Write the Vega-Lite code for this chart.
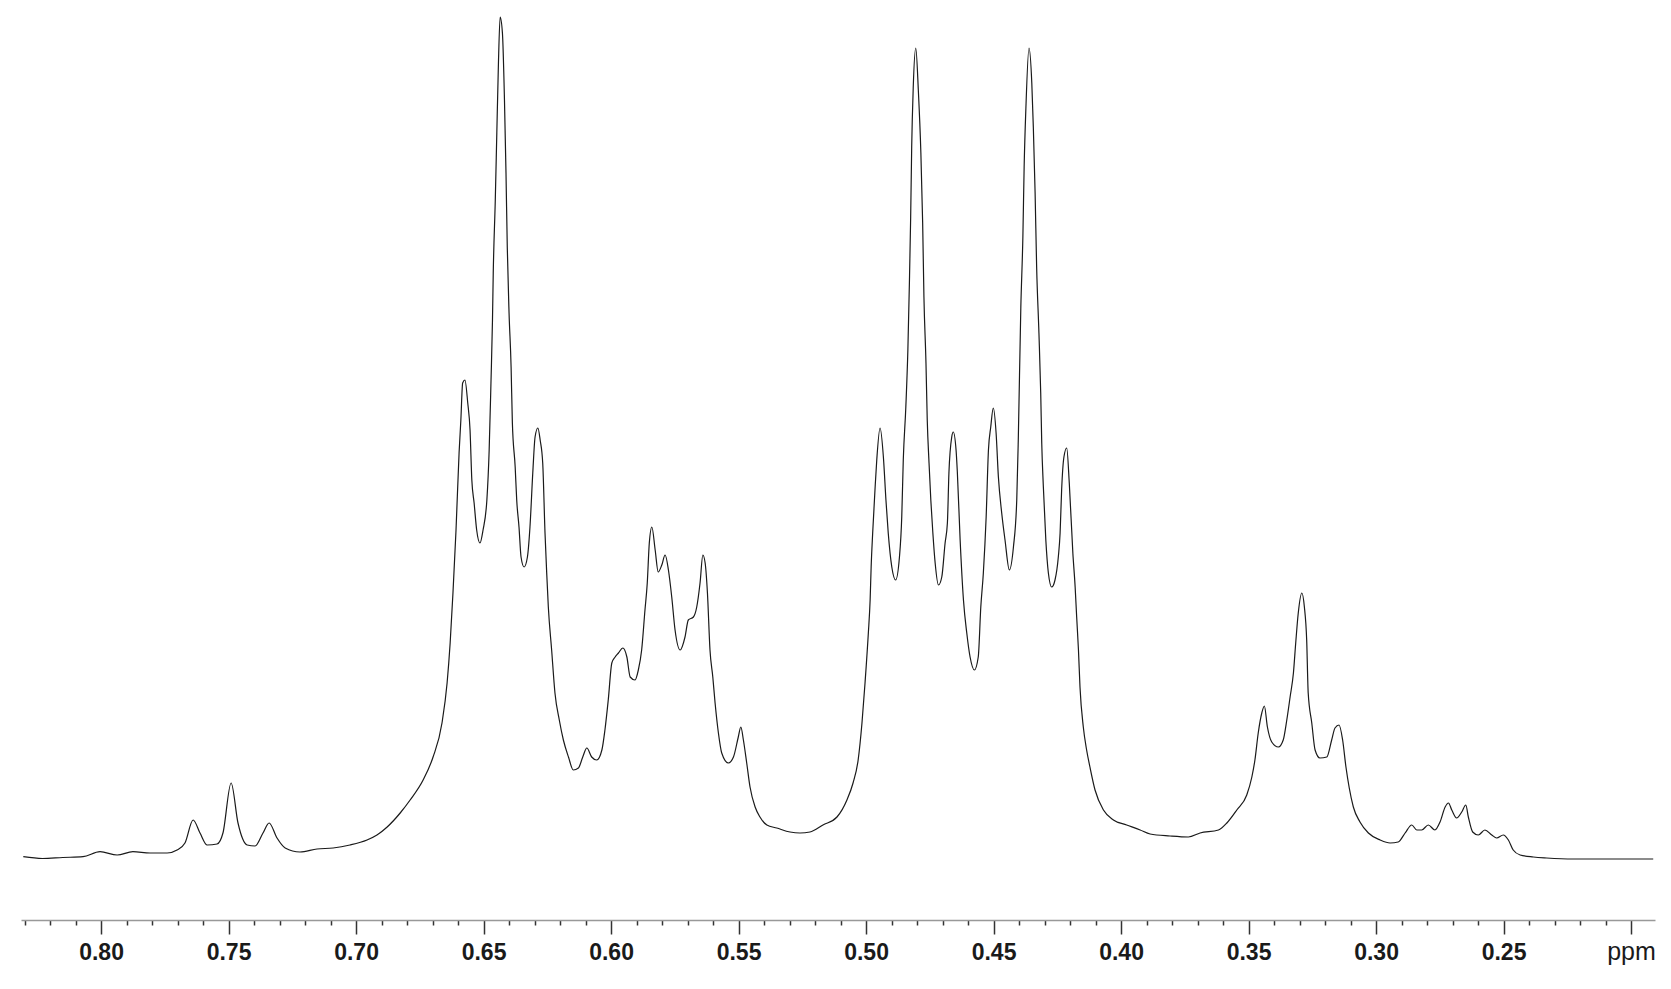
{
  "$schema": "https://vega.github.io/schema/vega-lite/v6.json",
  "width": 1634,
  "height": 920,
  "autosize": {"type": "none"},
  "padding": {"left": 21, "right": 16, "top": 0, "bottom": 69},
  "background": "white",
  "config": {"view": {"stroke": null}},
  "data": {"values": [
    {"ppm":0.8305,"intensity":3.3},{"ppm":0.8230,"intensity":1.5},{"ppm":0.8150,"intensity":2.5},{"ppm":0.8071,"intensity":3.3},
    {"ppm":0.8004,"intensity":8.3},{"ppm":0.7937,"intensity":5},{"ppm":0.7875,"intensity":8.3},{"ppm":0.7808,"intensity":7},
    {"ppm":0.7741,"intensity":7},{"ppm":0.7702,"intensity":10},{"ppm":0.7671,"intensity":17},{"ppm":0.7639,"intensity":40},
    {"ppm":0.7612,"intensity":27},{"ppm":0.7584,"intensity":15},{"ppm":0.7545,"intensity":16},{"ppm":0.7522,"intensity":27},
    {"ppm":0.7490,"intensity":77},{"ppm":0.7463,"intensity":37},{"ppm":0.7427,"intensity":15},{"ppm":0.7396,"intensity":14},
    {"ppm":0.7365,"intensity":27},{"ppm":0.7341,"intensity":37},{"ppm":0.7310,"intensity":22},{"ppm":0.7278,"intensity":12},
    {"ppm":0.7220,"intensity":8},{"ppm":0.7153,"intensity":11},{"ppm":0.7090,"intensity":12},{"ppm":0.7024,"intensity":15},
    {"ppm":0.6957,"intensity":20},{"ppm":0.6918,"intensity":25},{"ppm":0.6878,"intensity":33},{"ppm":0.6827,"intensity":47},
    {"ppm":0.6788,"intensity":60},{"ppm":0.6737,"intensity":80},{"ppm":0.6698,"intensity":103},{"ppm":0.6663,"intensity":137},
    {"ppm":0.6643,"intensity":177},{"ppm":0.6631,"intensity":217},{"ppm":0.6620,"intensity":267},{"ppm":0.6608,"intensity":330},
    {"ppm":0.6596,"intensity":407},{"ppm":0.6589,"intensity":440},{"ppm":0.6582,"intensity":477},{"ppm":0.6573,"intensity":480},
    {"ppm":0.6562,"intensity":457},{"ppm":0.6553,"intensity":430},{"ppm":0.6546,"intensity":380},{"ppm":0.6537,"intensity":357},
    {"ppm":0.6527,"intensity":330},{"ppm":0.6514,"intensity":317},{"ppm":0.6502,"intensity":330},{"ppm":0.6487,"intensity":360},
    {"ppm":0.6478,"intensity":410},{"ppm":0.6471,"intensity":477},{"ppm":0.6465,"intensity":540},{"ppm":0.6462,"intensity":587},
    {"ppm":0.6454,"intensity":660},{"ppm":0.6448,"intensity":727},{"ppm":0.6442,"intensity":793},{"ppm":0.6435,"intensity":843},
    {"ppm":0.6426,"intensity":827},{"ppm":0.6418,"intensity":760},{"ppm":0.6412,"intensity":687},{"ppm":0.6407,"intensity":613},
    {"ppm":0.6400,"intensity":547},{"ppm":0.6392,"intensity":493},{"ppm":0.6387,"intensity":437},{"ppm":0.6376,"intensity":393},
    {"ppm":0.6370,"intensity":360},{"ppm":0.6361,"intensity":333},{"ppm":0.6353,"intensity":303},{"ppm":0.6341,"intensity":293},
    {"ppm":0.6328,"intensity":303},{"ppm":0.6318,"intensity":333},{"ppm":0.6307,"intensity":387},{"ppm":0.6298,"intensity":423},
    {"ppm":0.6287,"intensity":432},{"ppm":0.6278,"intensity":420},{"ppm":0.6268,"intensity":397},{"ppm":0.6259,"intensity":327},
    {"ppm":0.6252,"intensity":285},{"ppm":0.6246,"intensity":253},{"ppm":0.6233,"intensity":210},{"ppm":0.6220,"intensity":167},
    {"ppm":0.6203,"intensity":140},{"ppm":0.6187,"intensity":120},{"ppm":0.6167,"intensity":103},{"ppm":0.6148,"intensity":90},
    {"ppm":0.6128,"intensity":92},{"ppm":0.6111,"intensity":103},{"ppm":0.6095,"intensity":112},{"ppm":0.6076,"intensity":103},
    {"ppm":0.6056,"intensity":100},{"ppm":0.6036,"intensity":110},{"ppm":0.6024,"intensity":130},{"ppm":0.6011,"intensity":160},
    {"ppm":0.5997,"intensity":197},{"ppm":0.5984,"intensity":203},{"ppm":0.5971,"intensity":207},{"ppm":0.5954,"intensity":212},
    {"ppm":0.5938,"intensity":203},{"ppm":0.5925,"intensity":183},{"ppm":0.5906,"intensity":180},{"ppm":0.5893,"intensity":190},
    {"ppm":0.5880,"intensity":210},{"ppm":0.5867,"intensity":250},{"ppm":0.5858,"intensity":277},{"ppm":0.5850,"intensity":317},
    {"ppm":0.5840,"intensity":333},{"ppm":0.5827,"intensity":310},{"ppm":0.5815,"intensity":288},{"ppm":0.5801,"intensity":295},
    {"ppm":0.5788,"intensity":305},{"ppm":0.5775,"intensity":290},{"ppm":0.5762,"intensity":263},{"ppm":0.5749,"intensity":230},
    {"ppm":0.5729,"intensity":210},{"ppm":0.5710,"intensity":223},{"ppm":0.5697,"intensity":240},{"ppm":0.5677,"intensity":243},
    {"ppm":0.5664,"intensity":253},{"ppm":0.5651,"intensity":277},{"ppm":0.5640,"intensity":305},{"ppm":0.5631,"intensity":297},
    {"ppm":0.5622,"intensity":267},{"ppm":0.5612,"intensity":210},{"ppm":0.5601,"intensity":183},{"ppm":0.5592,"intensity":157},
    {"ppm":0.5579,"intensity":127},{"ppm":0.5566,"intensity":107},{"ppm":0.5540,"intensity":97},{"ppm":0.5520,"intensity":103},
    {"ppm":0.5501,"intensity":123},{"ppm":0.5491,"intensity":133},{"ppm":0.5481,"intensity":120},{"ppm":0.5468,"intensity":97},
    {"ppm":0.5455,"intensity":73},{"ppm":0.5435,"intensity":53},{"ppm":0.5416,"intensity":43},{"ppm":0.5389,"intensity":35},
    {"ppm":0.5350,"intensity":32},{"ppm":0.5298,"intensity":28},{"ppm":0.5259,"intensity":27},{"ppm":0.5220,"intensity":28},
    {"ppm":0.5169,"intensity":35},{"ppm":0.5114,"intensity":43},{"ppm":0.5075,"intensity":60},{"ppm":0.5051,"intensity":77},
    {"ppm":0.5031,"intensity":100},{"ppm":0.5016,"intensity":137},{"ppm":0.5004,"intensity":177},{"ppm":0.4991,"intensity":227},
    {"ppm":0.4984,"intensity":260},{"ppm":0.4980,"intensity":293},{"ppm":0.4974,"intensity":327},{"ppm":0.4965,"intensity":370},
    {"ppm":0.4958,"intensity":400},{"ppm":0.4945,"intensity":432},{"ppm":0.4932,"intensity":403},{"ppm":0.4922,"intensity":360},
    {"ppm":0.4913,"intensity":327},{"ppm":0.4899,"intensity":293},{"ppm":0.4884,"intensity":280},{"ppm":0.4869,"intensity":303},
    {"ppm":0.4860,"intensity":343},{"ppm":0.4854,"intensity":400},{"ppm":0.4844,"intensity":453},{"ppm":0.4836,"intensity":510},
    {"ppm":0.4830,"intensity":577},{"ppm":0.4825,"intensity":643},{"ppm":0.4821,"intensity":713},{"ppm":0.4815,"intensity":772},
    {"ppm":0.4805,"intensity":812},{"ppm":0.4795,"intensity":770},{"ppm":0.4785,"intensity":707},{"ppm":0.4778,"intensity":637},
    {"ppm":0.4773,"intensity":563},{"ppm":0.4765,"intensity":497},{"ppm":0.4760,"intensity":440},{"ppm":0.4753,"intensity":397},
    {"ppm":0.4746,"intensity":360},{"ppm":0.4738,"intensity":327},{"ppm":0.4729,"intensity":297},{"ppm":0.4716,"intensity":275},
    {"ppm":0.4703,"intensity":283},{"ppm":0.4690,"intensity":317},{"ppm":0.4681,"intensity":337},{"ppm":0.4675,"intensity":387},
    {"ppm":0.4664,"intensity":423},{"ppm":0.4658,"intensity":428},{"ppm":0.4647,"intensity":410},{"ppm":0.4642,"intensity":388},
    {"ppm":0.4631,"intensity":320},{"ppm":0.4618,"intensity":260},{"ppm":0.4605,"intensity":227},{"ppm":0.4592,"intensity":203},
    {"ppm":0.4575,"intensity":190},{"ppm":0.4560,"intensity":203},{"ppm":0.4550,"intensity":253},{"ppm":0.4540,"intensity":287},
    {"ppm":0.4529,"intensity":343},{"ppm":0.4520,"intensity":410},{"ppm":0.4511,"intensity":433},{"ppm":0.4501,"intensity":452},
    {"ppm":0.4490,"intensity":427},{"ppm":0.4481,"intensity":383},{"ppm":0.4468,"intensity":347},{"ppm":0.4455,"intensity":320},
    {"ppm":0.4438,"intensity":290},{"ppm":0.4422,"intensity":313},{"ppm":0.4409,"intensity":360},{"ppm":0.4403,"intensity":420},
    {"ppm":0.4393,"intensity":553},{"ppm":0.4385,"intensity":623},{"ppm":0.4380,"intensity":693},{"ppm":0.4373,"intensity":753},
    {"ppm":0.4361,"intensity":812},{"ppm":0.4350,"intensity":777},{"ppm":0.4344,"intensity":733},{"ppm":0.4337,"intensity":667},
    {"ppm":0.4331,"intensity":593},{"ppm":0.4322,"intensity":527},{"ppm":0.4315,"intensity":467},{"ppm":0.4311,"intensity":417},
    {"ppm":0.4305,"intensity":375},{"ppm":0.4295,"intensity":320},{"ppm":0.4285,"intensity":287},{"ppm":0.4272,"intensity":273},
    {"ppm":0.4259,"intensity":280},{"ppm":0.4246,"intensity":303},{"ppm":0.4239,"intensity":327},{"ppm":0.4233,"intensity":370},
    {"ppm":0.4224,"intensity":403},{"ppm":0.4213,"intensity":412},{"ppm":0.4203,"intensity":377},{"ppm":0.4189,"intensity":307},
    {"ppm":0.4180,"intensity":273},{"ppm":0.4174,"intensity":243},{"ppm":0.4167,"intensity":210},{"ppm":0.4161,"intensity":173},
    {"ppm":0.4148,"intensity":133},{"ppm":0.4135,"intensity":110},{"ppm":0.4122,"intensity":93},{"ppm":0.4102,"intensity":70},
    {"ppm":0.4069,"intensity":50},{"ppm":0.4030,"intensity":40},{"ppm":0.3978,"intensity":35},{"ppm":0.3925,"intensity":30},
    {"ppm":0.3886,"intensity":26},{"ppm":0.3808,"intensity":24},{"ppm":0.3736,"intensity":23},{"ppm":0.3690,"intensity":27},
    {"ppm":0.3618,"intensity":30},{"ppm":0.3585,"intensity":37},{"ppm":0.3546,"intensity":50},{"ppm":0.3507,"intensity":65},
    {"ppm":0.3487,"intensity":83},{"ppm":0.3475,"intensity":100},{"ppm":0.3462,"intensity":127},{"ppm":0.3448,"intensity":147},
    {"ppm":0.3438,"intensity":154},{"ppm":0.3426,"intensity":133},{"ppm":0.3409,"intensity":118},{"ppm":0.3383,"intensity":113},
    {"ppm":0.3364,"intensity":120},{"ppm":0.3350,"intensity":140},{"ppm":0.3337,"intensity":163},{"ppm":0.3324,"intensity":187},
    {"ppm":0.3315,"intensity":217},{"ppm":0.3305,"intensity":247},{"ppm":0.3291,"intensity":267},{"ppm":0.3281,"intensity":253},
    {"ppm":0.3272,"intensity":220},{"ppm":0.3266,"intensity":167},{"ppm":0.3252,"intensity":137},{"ppm":0.3239,"intensity":110},
    {"ppm":0.3220,"intensity":102},{"ppm":0.3193,"intensity":103},{"ppm":0.3174,"intensity":120},{"ppm":0.3161,"intensity":132},
    {"ppm":0.3145,"intensity":135},{"ppm":0.3131,"intensity":120},{"ppm":0.3118,"intensity":93},{"ppm":0.3105,"intensity":72},
    {"ppm":0.3089,"intensity":53},{"ppm":0.3063,"intensity":38},{"ppm":0.3030,"intensity":27},{"ppm":0.2984,"intensity":20},
    {"ppm":0.2945,"intensity":17},{"ppm":0.2913,"intensity":18},{"ppm":0.2886,"intensity":27},{"ppm":0.2860,"intensity":35},
    {"ppm":0.2840,"intensity":30},{"ppm":0.2821,"intensity":30},{"ppm":0.2795,"intensity":35},{"ppm":0.2769,"intensity":30},
    {"ppm":0.2749,"intensity":38},{"ppm":0.2729,"intensity":53},{"ppm":0.2716,"intensity":57},{"ppm":0.2703,"intensity":50},
    {"ppm":0.2684,"intensity":42},{"ppm":0.2664,"intensity":48},{"ppm":0.2648,"intensity":55},{"ppm":0.2638,"intensity":43},
    {"ppm":0.2621,"intensity":28},{"ppm":0.2599,"intensity":25},{"ppm":0.2573,"intensity":30},{"ppm":0.2546,"intensity":25},
    {"ppm":0.2527,"intensity":22},{"ppm":0.2501,"intensity":25},{"ppm":0.2481,"intensity":20},{"ppm":0.2462,"intensity":10},
    {"ppm":0.2435,"intensity":5},{"ppm":0.2383,"intensity":3},{"ppm":0.2331,"intensity":2},{"ppm":0.2226,"intensity":1},
    {"ppm":0.2122,"intensity":1},{"ppm":0.1991,"intensity":1},{"ppm":0.1913,"intensity":1}
  ]},
  "mark": {"type": "line", "color": "#1a1a1a", "strokeWidth": 1.2, "interpolate": "monotone"},
  "encoding": {
    "x": {
      "field": "ppm",
      "type": "quantitative",
      "scale": {"domain": [0.8314, 0.1906], "nice": false, "zero": false},
      "axis": {
        "title": null,
        "grid": false,
        "values": [0.83,0.82,0.81,0.80,0.79,0.78,0.77,0.76,0.75,0.74,0.73,0.72,0.71,0.70,0.69,0.68,0.67,0.66,0.65,0.64,0.63,0.62,0.61,0.60,0.59,0.58,0.57,0.56,0.55,0.54,0.53,0.52,0.51,0.50,0.49,0.48,0.47,0.46,0.45,0.44,0.43,0.42,0.41,0.40,0.39,0.38,0.37,0.36,0.35,0.34,0.33,0.32,0.31,0.30,0.29,0.28,0.27,0.26,0.25,0.24,0.23,0.22,0.21,0.20],
        "labelExpr": "datum.value < 0.205 ? 'ppm' : (abs(datum.value*20 - round(datum.value*20)) < 0.01 ? format(datum.value, '.2f') : '')",
        "labelOverlap": false,
        "labelFlush": false,
        "labelFont": "Liberation Sans",
        "labelFontSize": {"condition": {"test": "datum.value < 0.205", "value": 25}, "value": 23},
        "labelFontWeight": {"condition": {"test": "datum.value < 0.205", "value": "normal"}, "value": "bold"},
        "labelColor": "#1a1a1a",
        "labelBaseline": "alphabetic",
        "labelPadding": 25,
        "tickSize": {"condition": {"test": "abs(datum.value*20 - round(datum.value*20)) < 0.01", "value": 14}, "value": 5},
        "tickColor": "#333",
        "tickWidth": 1.5,
        "domainColor": "#999",
        "domainWidth": 1.5
      }
    },
    "y": {
      "field": "intensity",
      "type": "quantitative",
      "scale": {"domain": [-60, 860], "nice": false, "zero": false},
      "axis": null
    }
  }
}
